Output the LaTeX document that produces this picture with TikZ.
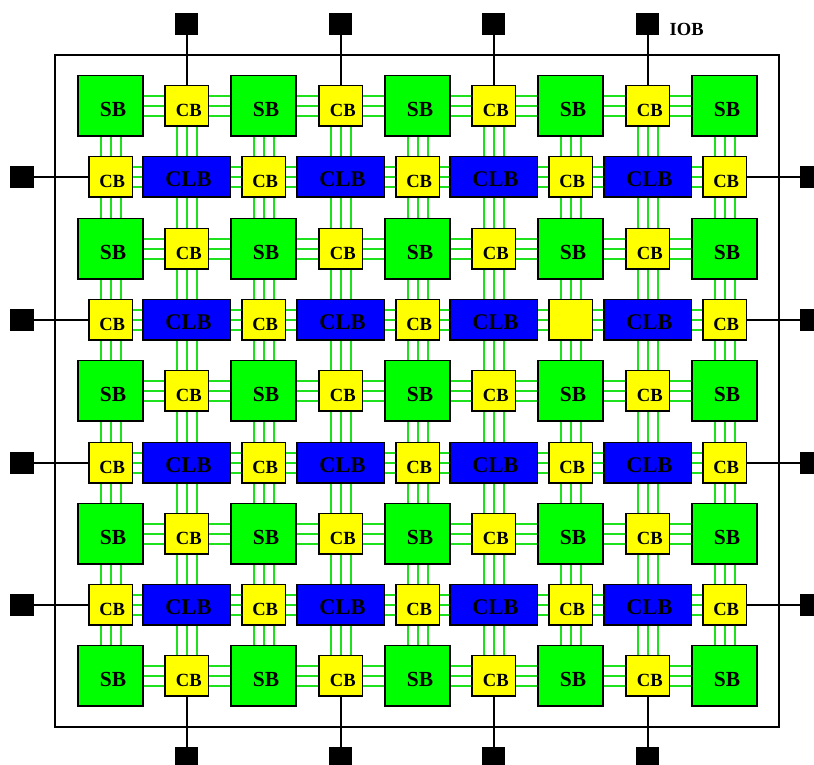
\documentclass[tikz,border=0pt]{standalone}
\usepackage{fontspec}
\setmainfont{Liberation Serif}
\usetikzlibrary{backgrounds}
\definecolor{sbgreen}{RGB}{0,255,0}
\definecolor{cbyellow}{RGB}{255,255,0}
\definecolor{clbblue}{RGB}{0,0,255}
\definecolor{wiregreen}{RGB}{30,225,30}
\newcommand{\lab}[3]{\raisebox{-#2pt}[0pt][0pt]{\makebox[0pt]{\hspace{#1pt}#3}}}
\tikzset{
  blockbox/.style={draw=black,line width=1.5pt,inner sep=0pt,outer sep=0pt,font=\bfseries},
  sbbox/.style={blockbox,fill=sbgreen,minimum width=65pt,minimum height=60.5pt},
  cbbox/.style={blockbox,fill=cbyellow,minimum width=43.5pt,minimum height=40.5pt},
  clbbox/.style={blockbox,fill=clbblue,minimum width=87.5pt,minimum height=40.5pt},
  iobox/.style={fill=black,draw=none,inner sep=0pt,outer sep=0pt,minimum width=23.5pt,minimum height=22pt},
  wire/.style={draw=wiregreen,line width=2pt},
  iowire/.style={draw=black,line width=2pt},
  frameline/.style={draw=black,line width=1.6pt}
}
\newcommand{\szA}{\fontsize{21.5}{22}\selectfont}
\newcommand{\szB}{\fontsize{18.6}{20}\selectfont}
\newcommand{\szC}{\fontsize{22.4}{23}\selectfont}
\def\colS{{110.5,263.5,417.5,570.5,724.5}}
\def\colH{{186.5,340.5,493.5,647.5}}
\def\rowS{{105.5,248.5,390.5,533.5,675.5}}
\def\rowM{{176.5,319.5,462.5,604.5}}
\begin{document}
\begin{tikzpicture}[x=1pt,y=-1pt]
\path[use as bounding box,clip] (0,0) rectangle (814,764);
% switch boxes
\foreach \cc in {0,...,4}{\foreach \rr in {0,...,4}{
  \node[sbbox] (s-\cc-\rr) at ({\colS[\cc]},{\rowS[\rr]}) {\szA\lab{5}{10.5}{SB}};
}}
% horizontal-channel connection boxes
\foreach \cc in {0,...,3}{\foreach \rr in {0,...,4}{
  \node[cbbox] (h-\cc-\rr) at ({\colH[\cc]},{\rowS[\rr]}) {\szB\lab{4.5}{10.5}{CB}};
}}
% vertical-channel connection boxes
\foreach \cc in {0,...,4}{\foreach \rr in {0,...,3}{
  \node[cbbox] (v-\cc-\rr) at ({\colS[\cc]},{\rowM[\rr]}) {\ifnum\cc\rr=31 \else\szB\lab{3.4}{10.8}{CB}\fi};
}}
% logic blocks
\foreach \cc in {0,...,3}{\foreach \rr in {0,...,3}{
  \node[clbbox] (l-\cc-\rr) at ({\colH[\cc]},{\rowM[\rr]}) {\szC\lab{4}{10.2}{CLB}};
}}
% IO blocks
\foreach \cc in {0,...,3}{
  \node[iobox] (it-\cc) at ({\colH[\cc]},24) {};
  \node[iobox] (ib-\cc) at ({\colH[\cc]},757.7) {};
}
\foreach \rr in {0,...,3}{
  \node[iobox] (il-\rr) at (22,{\rowM[\rr]}) {};
  \node[iobox] (ir-\rr) at (812,{\rowM[\rr]}) {};
}
\node[anchor=base west,inner sep=0pt,font=\bfseries\fontsize{18.5}{20}\selectfont] (ioblabel) at (669.5,35) {IOB};
\begin{scope}[on background layer]
  \coordinate (frameA) at (55,55);
  \coordinate (frameB) at (779,727);
  \draw[frameline] (frameA) rectangle (frameB);
  % channel wires
  \foreach \dd in {-10,0,10}{
    \foreach \cc [evaluate=\cc as \nn using int(\cc+1)] in {0,...,3}{\foreach \rr in {0,...,4}{
      \draw[wire] ([yshift=\dd pt]s-\cc-\rr.east) -- ([yshift=\dd pt]h-\cc-\rr.west);
      \draw[wire] ([yshift=\dd pt]h-\cc-\rr.east) -- ([yshift=\dd pt]s-\nn-\rr.west);
    }}
    \foreach \cc in {0,...,4}{\foreach \rr [evaluate=\rr as \nn using int(\rr+1)] in {0,...,3}{
      \draw[wire] ([xshift=\dd pt]s-\cc-\rr.south) -- ([xshift=\dd pt]v-\cc-\rr.north);
      \draw[wire] ([xshift=\dd pt]v-\cc-\rr.south) -- ([xshift=\dd pt]s-\cc-\nn.north);
    }}
    \foreach \cc in {0,...,3}{\foreach \rr [evaluate=\rr as \nn using int(\rr+1)] in {0,...,3}{
      \draw[wire] ([xshift=\dd pt]h-\cc-\rr.south) -- ([xshift=\dd pt]l-\cc-\rr.north);
      \draw[wire] ([xshift=\dd pt]l-\cc-\rr.south) -- ([xshift=\dd pt]h-\cc-\nn.north);
    }}
    \foreach \cc [evaluate=\cc as \nn using int(\cc+1)] in {0,...,3}{\foreach \rr in {0,...,3}{
      \draw[wire] ([yshift=\dd pt]v-\cc-\rr.east) -- ([yshift=\dd pt]l-\cc-\rr.west);
      \draw[wire] ([yshift=\dd pt]l-\cc-\rr.east) -- ([yshift=\dd pt]v-\nn-\rr.west);
    }}
  }
  % IO connections
  \foreach \cc in {0,...,3}{
    \draw[iowire] (it-\cc.south) -- (h-\cc-0.north);
    \draw[iowire] (h-\cc-4.south) -- (ib-\cc.north);
  }
  \foreach \rr in {0,...,3}{
    \draw[iowire] (il-\rr.east) -- (v-0-\rr.west);
    \draw[iowire] (v-4-\rr.east) -- (ir-\rr.west);
  }
\end{scope}
\end{tikzpicture}
\end{document}
